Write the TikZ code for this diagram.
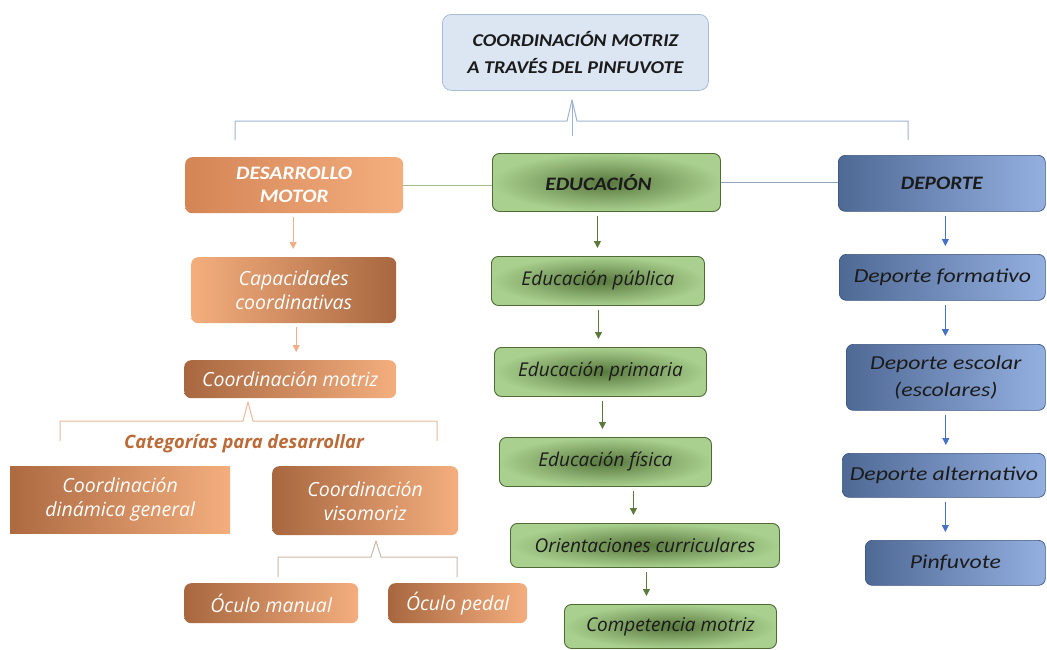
\documentclass[tikz,border=0pt]{standalone}
\usepackage{fontspec}
\setmainfont{Open Sans}
\newfontfamily\headfont{Carlito}[FakeStretch=1.12]
\newfontfamily\sportfont{Carlito}[FakeStretch=1.2]
\usetikzlibrary{arrows.meta}

\definecolor{titlefill}{HTML}{DCE6F2}
\definecolor{titleline}{HTML}{A7BCD6}
\definecolor{bracegray}{HTML}{9DB3CF}
\definecolor{orlight}{HTML}{F4AE7E}
\definecolor{ordark}{HTML}{A8673F}
\definecolor{ormid}{HTML}{D48556}
\definecolor{orarrow}{HTML}{F0AF8A}
\definecolor{orbrace}{HTML}{E8B89A}
\definecolor{ortext}{HTML}{BC6A37}
\definecolor{grlight}{HTML}{A9D08E}
\definecolor{grdark}{HTML}{58783D}
\definecolor{grline}{HTML}{4F6B36}
\definecolor{grarrow}{HTML}{5A7A3C}
\definecolor{grlink}{HTML}{A2BD8C}
\definecolor{bldark}{HTML}{4F6995}
\definecolor{bllight}{HTML}{94B0E0}
\definecolor{blline}{HTML}{3A5580}
\definecolor{blarrow}{HTML}{4472C4}
\definecolor{bllink}{HTML}{8FA4BF}
\definecolor{visobrace}{HTML}{C9B8A8}
\definecolor{darktext}{HTML}{1B1B1B}

\begin{document}
\begin{tikzpicture}[x=1pt,y=-1pt,
  base/.style={anchor=north west, align=center, inner sep=2pt},
  titlebox/.style={base, rounded corners=9pt, fill=titlefill, draw=titleline, line width=0.8pt,
    text=darktext, font=\headfont\bfseries\itshape\fontsize{18}{27}\selectfont},
  headtxt/.style={font=\headfont\bfseries\itshape\fontsize{19}{23}\selectfont},
  orbox/.style={base, rounded corners=7pt, text=white,
    font=\itshape\fontsize{19.5}{24}\selectfont},
  grbox/.style={base, rounded corners=7pt, draw=grline, line width=0.9pt,
    inner color=grdark, outer color=grlight, text=darktext,
    font=\itshape\fontsize{19}{22}\selectfont},
  blbox/.style={base, rounded corners=7pt, draw=blline, line width=0.7pt,
    left color=bldark, right color=bllight, text=darktext,
    font=\sportfont\itshape\fontsize{19.8}{27}\selectfont},
  arrO/.style={draw=orarrow, line width=1pt, -{Triangle[length=7pt,width=7pt]},
    shorten <=4pt, shorten >=8pt},
  arrG/.style={draw=grarrow, line width=1pt, -{Triangle[length=7pt,width=7pt]},
    shorten <=4pt, shorten >=8pt},
  arrB/.style={draw=blarrow, line width=1pt, -{Triangle[length=7pt,width=7pt]},
    shorten <=4pt, shorten >=8pt},
]
\useasboundingbox (0,0) rectangle (1047,649);

% title
\node[titlebox, minimum width=266pt, minimum height=76pt] (title) at (442,14)
  {COORDINACIÓN MOTRIZ\\A TRAVÉS DEL PINFUVOTE};

% top brace
\coordinate (tb0) at (235,140);
\coordinate (tb1) at (235,121);
\coordinate (tbtip) at (572,100);
\coordinate (tbfoot) at (572,136);
\coordinate (tb2) at (908,121);
\coordinate (tb3) at (908,140);
\draw[bracegray, line width=1pt, line join=round]
  (tb0) -- (tb1) -- (567,121) -- (tbtip) -- (577,121) -- (tb2) -- (tb3);
\draw[bracegray, line width=1pt] (tbtip) -- (tbfoot);

% three main branches
\node[base, rounded corners=7pt, left color=ormid, right color=orlight, text=white, headtxt,
  minimum width=218pt, minimum height=56pt] (DES) at (185,157) {DESARROLLO\\MOTOR};
\node[grbox, headtxt, minimum width=228pt, minimum height=58pt] (EDU) at (492,153)
  {EDUCACIÓN\hspace*{16pt}};
\node[blbox, headtxt, minimum width=207pt, minimum height=56pt] (DEP) at (838,155) {DEPORTE};

\draw[grlink, line width=1.2pt] (DES.east) -- (DES.east -| EDU.west);
\draw[bllink, line width=1.2pt] (EDU.east) -- (EDU.east -| DEP.west);

% motor development column
\node[orbox, left color=orlight, right color=ordark, minimum width=205pt, minimum height=66pt]
  (Cap) at (191,257) {Capacidades\\coordinativas};
\node[orbox, left color=ordark, right color=orlight, minimum width=212pt, minimum height=38pt]
  (CM) at (184,360) {Coordinación motriz};

\draw[arrO] ([xshift=-1pt]DES.south) -- ([xshift=-1pt]DES.south |- Cap.north);
\draw[arrO] ([xshift=2.5pt]Cap.south) -- ([xshift=2.5pt]Cap.south |- CM.north);

\coordinate (lbtip) at (248,402);
\draw[orbrace, line width=1pt, line join=round]
  (60,441) -- (60,421) -- (243,421) -- (lbtip) -- (253,421) -- (437,421) -- (437,441);

\node[font=\bfseries\itshape\fontsize{18.4}{20}\selectfont, text=ortext] (catg) at (244,444)
  {Categorías para desarrollar};

\node[orbox, rounded corners=0pt, left color=ordark!90!ormid, right color=orlight,
  minimum width=220pt, minimum height=67pt] (CDG) at (10,466) {Coordinación\\dinámica general};
\node[orbox, left color=ordark, right color=orlight, minimum width=186pt, minimum height=69pt]
  (CV) at (272,466) {Coordinación\\visomoriz};

\coordinate (vbtip) at (376,541);
\draw[visobrace, line width=1pt, line join=round]
  (278,577) -- (278,557) -- (371,557) -- (vbtip) -- (381,557) -- (457,557) -- (457,577);

\node[orbox, left color=ordark, right color=orlight, minimum width=174pt, minimum height=40pt]
  (OM) at (184,583) {Óculo manual};
\node[orbox, left color=ordark, right color=orlight, minimum width=139pt, minimum height=40pt]
  (OP) at (388,583) {Óculo pedal};

% education column
\node[grbox, minimum width=213pt, minimum height=49pt] (EP) at (491,256) {Educación pública};
\node[grbox, minimum width=212pt, minimum height=49pt] (EPr) at (494,347) {Educación primaria};
\node[grbox, minimum width=212pt, minimum height=49pt] (EF) at (499,437) {Educación física};
\node[grbox, minimum width=269pt, minimum height=44pt] (OC) at (510,523) {Orientaciones curriculares};
\node[grbox, minimum width=212pt, minimum height=44pt] (CoM) at (564,604) {Competencia motriz};

\draw[arrG] ([xshift=-9pt]EDU.south) -- ([xshift=-9pt]EDU.south |- EP.north);
\draw[arrG] ([xshift=0.5pt]EP.south) -- ([xshift=0.5pt]EP.south |- EPr.north);
\draw[arrG] ([xshift=2pt]EPr.south) -- ([xshift=2pt]EPr.south |- EF.north);
\draw[arrG] ([xshift=28pt]EF.south) -- ([xshift=28pt]EF.south |- OC.north);
\draw[arrG] ([xshift=1.5pt]OC.south) -- ([xshift=1.5pt]OC.south |- CoM.north);

% sport column
\node[blbox, minimum width=206pt, minimum height=46pt] (DF) at (839,254) {Deporte formativo};
\node[blbox, minimum width=199pt, minimum height=66pt] (DE) at (846,344) {Deporte escolar\\(escolares)};
\node[blbox, minimum width=203pt, minimum height=44pt] (DA) at (842,453) {Deporte alternativo};
\node[blbox, minimum width=180pt, minimum height=45pt] (Pin) at (865,540) {Pinfuvote};

\draw[arrB] ([xshift=3.5pt]DEP.south) -- ([xshift=3.5pt]DEP.south |- DF.north);
\draw[arrB] ([xshift=3pt]DF.south) -- ([xshift=3pt]DF.south |- DE.north);
\draw[arrB] (DE.south) -- (DE.south |- DA.north);
\draw[arrB] ([xshift=1.5pt]DA.south) -- ([xshift=1.5pt]DA.south |- Pin.north);
\end{tikzpicture}
\end{document}
